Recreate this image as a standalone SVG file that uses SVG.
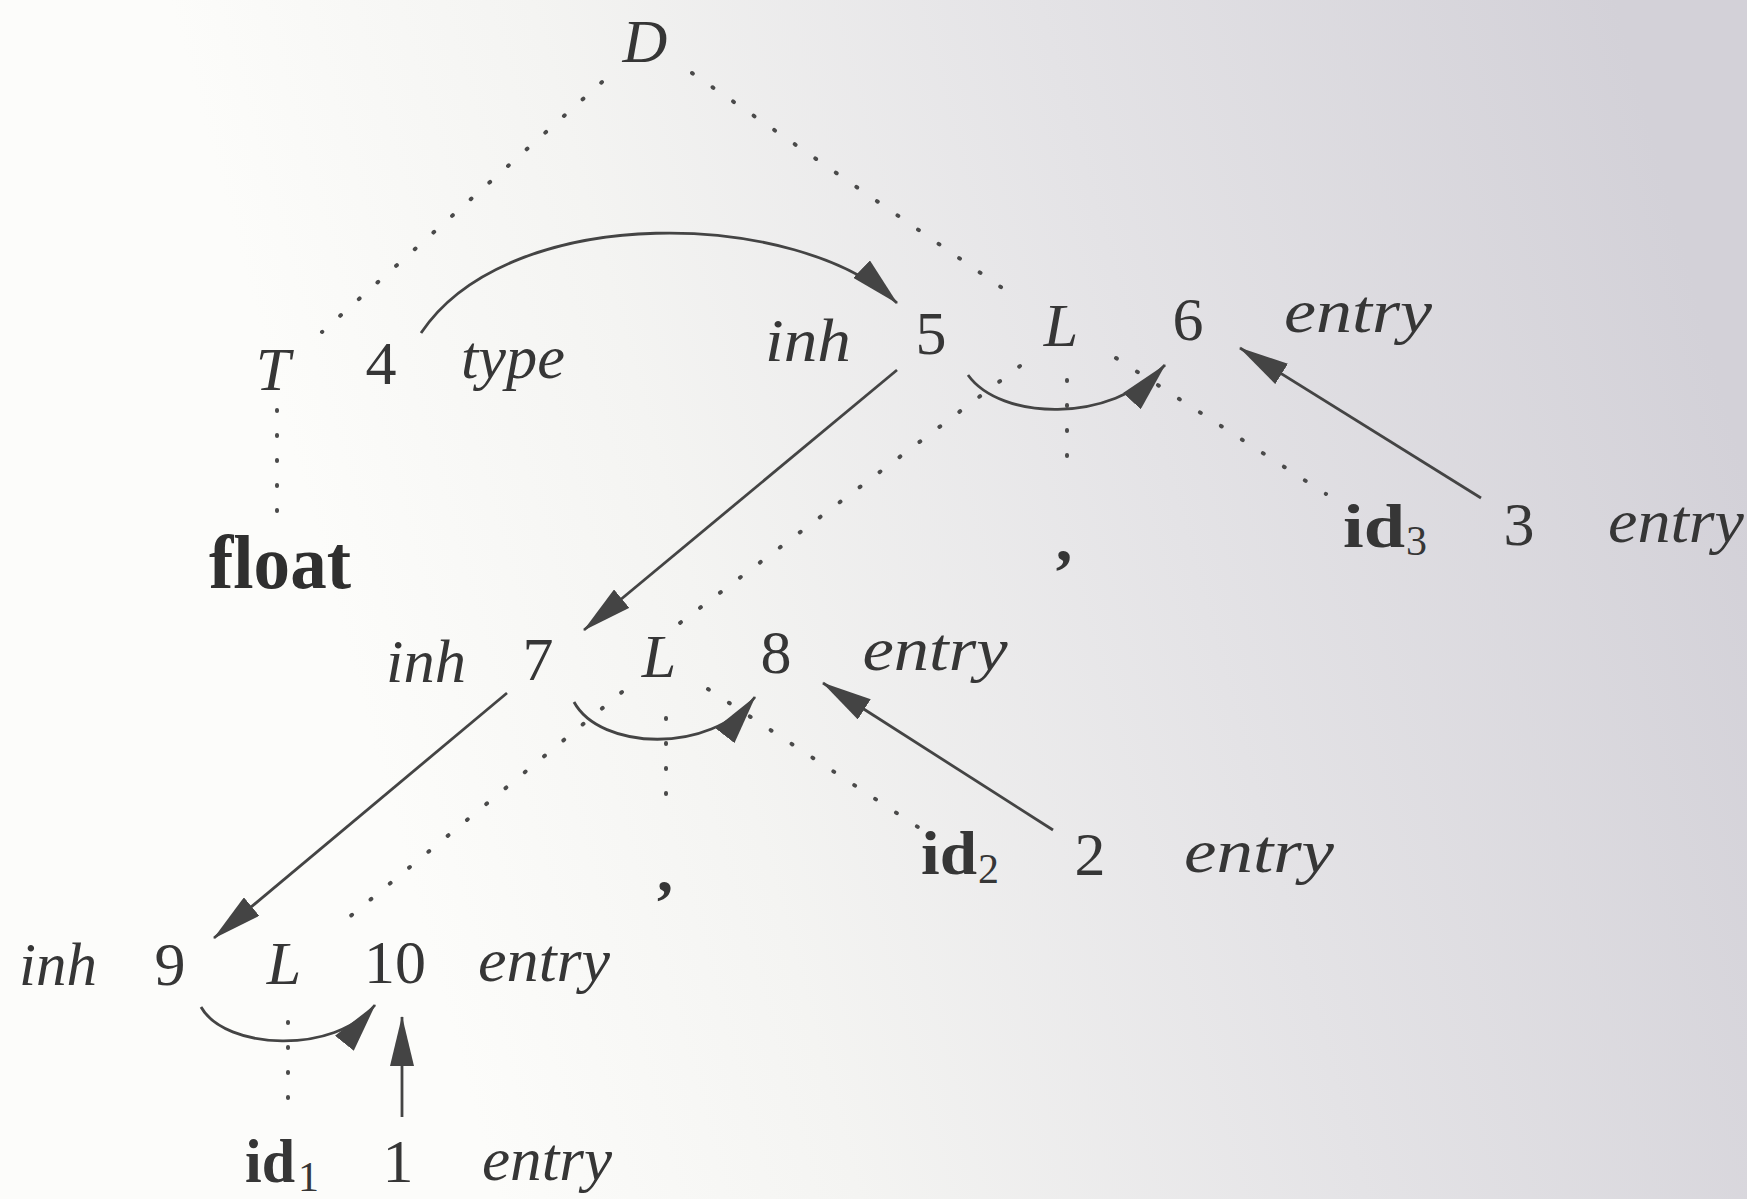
<svg xmlns="http://www.w3.org/2000/svg" width="1747" height="1199" viewBox="0 0 1747 1199">
<defs>
<linearGradient id="bg" x1="0.2" y1="0.55" x2="1" y2="0.4">
<stop offset="0" stop-color="#fcfcfa"/>
<stop offset="0.25" stop-color="#f4f4f2"/>
<stop offset="0.6" stop-color="#e4e3e6"/>
<stop offset="1" stop-color="#d3d1d8"/>
</linearGradient>
<marker id="ah" viewBox="0 0 50 24" refX="49" refY="12" markerWidth="50" markerHeight="24" markerUnits="userSpaceOnUse" orient="auto">
<path d="M0,0 L50,12 L0,24 z" fill="#444444"/>
</marker>
<style>
.t{font-family:"Liberation Serif","Times New Roman",serif;fill:#363636;font-size:62px}
.i{font-style:italic}
.b{font-weight:bold}
.s{font-size:42px}
.dot{fill:none;stroke:#4a4a4a;stroke-width:4;stroke-linecap:round;stroke-dasharray:1 24}
.arr{fill:none;stroke:#444444;stroke-width:2.8;marker-end:url(#ah)}
</style>
</defs>
<rect width="1747" height="1199" fill="url(#bg)"/>

<g id="connectors">
<!-- parse tree (dotted) -->
<line class="dot" x1="602" y1="82" x2="322" y2="332"/>
<line class="dot" x1="692" y1="73" x2="1008" y2="292"/>
<line class="dot" x1="277" y1="410" x2="277" y2="512"/>
<line class="dot" x1="1020" y1="366" x2="668" y2="632"/>
<line class="dot" x1="1067" y1="380" x2="1067" y2="476"/>
<line class="dot" x1="1116" y1="358" x2="1326" y2="494"/>
<line class="dot" x1="622" y1="692" x2="336" y2="928"/>
<line class="dot" x1="666" y1="718" x2="666" y2="800"/>
<line class="dot" x1="708" y1="689" x2="924" y2="831"/>
<line class="dot" x1="288" y1="1022" x2="288" y2="1102"/>
<!-- dependency arrows -->
<path class="arr" d="M421,333 C510,200 800,210 897,303"/>
<line class="arr" x1="897" y1="370" x2="584" y2="630"/>
<line class="arr" x1="507" y1="693" x2="214" y2="938"/>
<path class="arr" d="M968,375 C1000,420 1110,425 1165,365"/>
<path class="arr" d="M574,702 C600,750 710,755 755,697"/>
<path class="arr" d="M201,1007 C225,1050 335,1055 375,1005"/>
<line class="arr" x1="1481" y1="498" x2="1240" y2="348"/>
<line class="arr" x1="1053" y1="830" x2="823" y2="683"/>
<line class="arr" x1="402" y1="1117" x2="402" y2="1017"/>
</g>

<g id="node-D"><text class="t i" x="645" y="62" text-anchor="middle">D</text></g>

<g id="node-T"><text class="t i" x="273" y="390" text-anchor="middle">T</text></g>
<g id="node-4"><text class="t" x="381" y="384" text-anchor="middle">4</text>
<text class="t i" x="513" y="378" text-anchor="middle" textLength="104" lengthAdjust="spacingAndGlyphs">type</text></g>

<g id="node-5"><text class="t i" x="808" y="361" text-anchor="middle" textLength="86" lengthAdjust="spacingAndGlyphs">inh</text>
<text class="t" x="931" y="354" text-anchor="middle">5</text></g>
<g id="node-L1"><text class="t i" x="1061" y="346" text-anchor="middle">L</text></g>
<g id="node-6"><text class="t" x="1188" y="340" text-anchor="middle">6</text>
<text class="t i" x="1358" y="332" text-anchor="middle" textLength="148" lengthAdjust="spacingAndGlyphs">entry</text></g>

<g id="node-float"><text class="t b" x="280" y="588" text-anchor="middle" textLength="142" lengthAdjust="spacingAndGlyphs" style="font-size:76px;fill:#2f2f2f">float</text></g>
<g id="node-comma1"><text class="t b" x="1064" y="561" text-anchor="middle" style="font-size:66px">,</text></g>
<g id="node-id3"><text class="t b" x="1343" y="547" textLength="62" lengthAdjust="spacingAndGlyphs">id</text><text class="t s" x="1406" y="555">3</text></g>
<g id="node-3"><text class="t" x="1519" y="545" text-anchor="middle">3</text>
<text class="t i" x="1676" y="542" text-anchor="middle" textLength="136" lengthAdjust="spacingAndGlyphs">entry</text></g>

<g id="node-7"><text class="t i" x="426" y="682" text-anchor="middle" textLength="80" lengthAdjust="spacingAndGlyphs">inh</text>
<text class="t" x="538" y="680" text-anchor="middle">7</text></g>
<g id="node-L2"><text class="t i" x="659" y="677" text-anchor="middle">L</text></g>
<g id="node-8"><text class="t" x="776" y="673" text-anchor="middle">8</text>
<text class="t i" x="935" y="670" text-anchor="middle" textLength="145" lengthAdjust="spacingAndGlyphs">entry</text></g>

<g id="node-comma2"><text class="t b" x="665" y="891" text-anchor="middle" style="font-size:64px">,</text></g>
<g id="node-id2"><text class="t b" x="921" y="874" textLength="56" lengthAdjust="spacingAndGlyphs">id</text><text class="t s" x="978" y="883">2</text></g>
<g id="node-2"><text class="t" x="1090" y="875" text-anchor="middle">2</text>
<text class="t i" x="1259" y="872" text-anchor="middle" textLength="150" lengthAdjust="spacingAndGlyphs">entry</text></g>

<g id="node-9"><text class="t i" x="58" y="985" text-anchor="middle" textLength="78" lengthAdjust="spacingAndGlyphs">inh</text>
<text class="t" x="170" y="985" text-anchor="middle">9</text></g>
<g id="node-L3"><text class="t i" x="284" y="984" text-anchor="middle">L</text></g>
<g id="node-10"><text class="t" x="395" y="983" text-anchor="middle">10</text>
<text class="t i" x="544" y="981" text-anchor="middle" textLength="132" lengthAdjust="spacingAndGlyphs">entry</text></g>

<g id="node-id1"><text class="t b" x="245" y="1182" textLength="50" lengthAdjust="spacingAndGlyphs">id</text><text class="t s" x="298" y="1191">1</text></g>
<g id="node-1"><text class="t" x="398" y="1182" text-anchor="middle">1</text>
<text class="t i" x="547" y="1180" text-anchor="middle" textLength="130" lengthAdjust="spacingAndGlyphs">entry</text></g>
</svg>
